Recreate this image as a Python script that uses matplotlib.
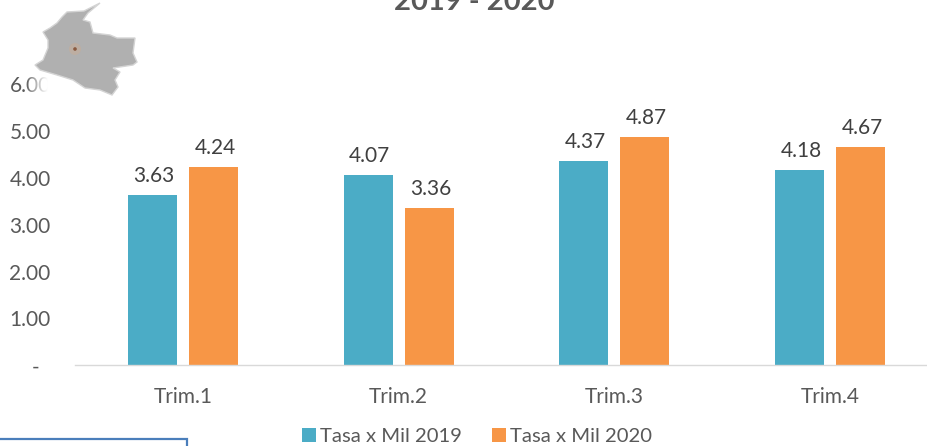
import numpy as np
import matplotlib
matplotlib.use("Agg")
import matplotlib.pyplot as plt
from matplotlib.patches import Polygon, Rectangle, Circle
from matplotlib.transforms import Affine2D

plt.rcParams['font.family'] = ['Lato', 'DejaVu Sans']

categories = ["Trim.1", "Trim.2", "Trim.3", "Trim.4"]
tasa_2019 = [3.63, 4.07, 4.37, 4.18]
tasa_2020 = [4.24, 3.36, 4.87, 4.67]
y_ticks = [0, 1, 2, 3, 4, 5, 6]
title = "2019 - 2020"
legend_labels = ["Tasa x Mil 2019", "Tasa x Mil 2020"]
map_outline = [(100,3),(92,7),(84,11),(67,12),(62,17),(57,23),(50,28),(43,32),(48,40),(48,48),
               (43,60),(35,65),(40,70),(57,75),(73,80),(85,88),(100,90),(112,95),(118,87),(115,80),
               (120,72),(113,68),(133,65),(137,62),(133,53),(135,38),(117,38),(110,35),(93,33),
               (90,22),(83,20),(88,13)]

W, H = 928, 446
TEXT = "#595959"
C1, C2 = "#4bacc6", "#f79646"
FS = 15
fig = plt.figure(figsize=(W/100, H/100), dpi=100, facecolor="white")
ax = fig.add_axes([75/W, (H-365)/H, 863/W, 280.5/H])

x = np.arange(len(categories))
bw, off = 0.227, 0.1415
b1 = ax.bar(x-off, tasa_2019, bw, color=C1, label=legend_labels[0])
b2 = ax.bar(x+off, tasa_2020, bw, color=C2, label=legend_labels[1])
for bars in (b1, b2):
    for ann in ax.bar_label(bars, fmt="%.2f", padding=6, color="#404040", fontsize=FS):
        ann.xyann = (1.2, 6.5)

ax.set_xlim(-0.5, 3.5)
ax.set_ylim(0, 6)
ax.set_xticks(x, categories, fontsize=FS, color=TEXT)
ax.set_yticks(y_ticks, [""] + [f"{v:.2f}" for v in y_ticks[1:]], fontsize=FS, color=TEXT)
ax.tick_params(length=0)
ax.tick_params(axis="x", pad=15.5)
ax.tick_params(axis="y", pad=17.5)
for s in ("top", "right", "left"):
    ax.spines[s].set_visible(False)
ax.spines["bottom"].set_color("#d9d9d9")
ax.spines["bottom"].set_linewidth(1.0)
ax.annotate("-", xy=(0, 0), xycoords=ax.get_yaxis_transform(), xytext=(-39, -3),
            textcoords="offset pixels", ha="center", va="center", fontsize=FS, color=TEXT,
            annotation_clip=False)

fig.text(474/W, (H-2)/H, title, ha="center", va="center", fontsize=21, fontweight="bold", color=TEXT)

handles, labels = ax.get_legend_handles_labels()
fig.legend(handles, labels, loc="center", bbox_to_anchor=(477/W, (H-436.5)/H), ncol=2, frameon=False,
           fontsize=14.6, labelcolor=TEXT, handlelength=0.69, handleheight=0.69,
           handletextpad=0.2, columnspacing=1.48, borderpad=0, borderaxespad=0)

# decorative elements in pixel coordinates (origin top-left)
px = Affine2D().scale(1, -1).translate(0, H)
white_fade = np.ones((1, 40, 4))
white_fade[..., 3] = np.clip(np.linspace(0, 1.2, 40), 0, 1) ** 0.8
fade = fig.add_axes([26/W, (H-97)/H, 26/W, 24/H], zorder=4)
fade.imshow(white_fade, aspect="auto")
fade.axis("off")
fig.add_artist(Polygon(map_outline, closed=True, facecolor="#b0b0b0", edgecolor="#d4d4d4", linewidth=1.0, transform=px, zorder=5))
fig.add_artist(Circle((75, 49), 6, facecolor="#bdaea2", edgecolor="none", transform=px, zorder=6))
fig.add_artist(Circle((75, 49), 1.8, facecolor="#8a5a40", edgecolor="none", transform=px, zorder=7))
fig.add_artist(Rectangle((-5, 439), 192, 20, facecolor="white", edgecolor="#4a7ebb", linewidth=1.6, transform=px, zorder=5))

fig.savefig("out.png", dpi=100, facecolor="white")
